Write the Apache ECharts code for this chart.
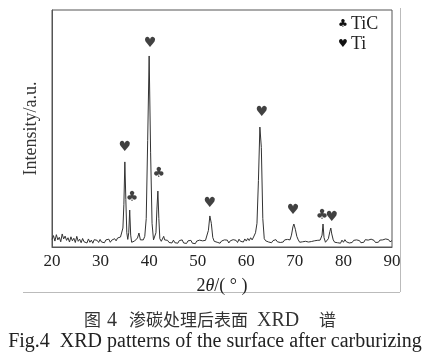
<!DOCTYPE html>
<html><head><meta charset="utf-8">
<script src="https://cdn.jsdelivr.net/npm/echarts@6/dist/echarts.min.js"></script>
<style>html,body{margin:0;padding:0;background:#fff}#c{width:430px;height:359px}</style>
</head><body><div id="c"></div>
<script>
// XRD pattern [2θ (°), intensity (a.u., 0-100)]
const pattern = [
[20.0,3.2],[20.3,4.8],[20.6,2.5],[20.9,5.2],[21.2,3.0],[21.5,4.1],[21.8,2.2],[22.1,5.5],[22.4,3.4],[22.7,4.6],
[23.0,2.8],[23.3,3.9],[23.6,2.1],[23.9,4.3],[24.2,2.6],[24.5,3.7],[24.8,1.9],[25.1,4.5],[25.4,2.4],[25.7,3.3],
[26.0,1.8],[26.3,3.6],[26.6,2.2],[26.9,3.0],[27.2,1.7],[27.5,3.4],[27.8,2.0],[28.1,2.9],[28.4,1.6],[28.7,3.1],
[29.0,2.3],[29.3,2.8],[29.6,1.9],[29.9,3.2],[30.2,2.1],[30.5,2.7],[30.8,1.8],[31.1,3.0],[31.4,2.2],[31.7,3.3],
[32.0,2.0],[32.3,2.9],[32.6,2.4],[32.9,3.5],[33.2,2.6],[33.5,3.8],[33.8,3.0],[34.1,4.2],[34.4,5.0],
[34.6,8],[34.8,18],[35.0,35.9],[35.2,20],[35.4,6],[35.6,3.2],
[35.8,6],[36.0,15.6],[36.2,5],[36.4,2.0],[36.7,1.5],[37.0,2.5],[37.3,2.0],[37.6,3.8],[37.9,5.9],[38.2,3.0],
[38.5,2.2],[38.8,3.0],[39.1,4.5],[39.4,12],[39.7,45],[40.0,80.6],[40.3,40],[40.6,10],[40.9,3.0],[41.2,2.5],
[41.4,6],[41.6,16],[41.8,23.6],[42.0,12],[42.2,3.5],[42.5,2.4],[42.8,3.1],[43.0,4.5],[43.2,3.0],[43.5,2.2],
[43.8,2.8],[44.1,1.9],[44.4,2.6],[44.7,1.7],
[45.0,2.9],[45.3,1.8],[45.6,2.5],[45.9,1.6],[46.2,2.7],[46.5,2.0],[46.8,3.0],[47.1,1.7],[47.4,2.4],[47.7,1.5],
[48.0,2.6],[48.3,1.9],[48.6,2.8],[48.9,1.6],[49.2,2.3],[49.5,1.4],[49.8,2.5],[50.1,1.8],[50.4,2.9],[50.7,2.1],
[51.0,2.6],[51.3,1.9],[51.6,2.8],[51.9,3.0],[52.2,7],[52.5,13.1],[52.8,10],[53.1,4],
[53.4,2.4],[53.7,3.2],[54.0,2.0],[54.3,2.7],[54.6,1.6],[54.9,2.5],[55.2,1.8],[55.5,3.0],[55.8,2.2],[56.1,2.9],
[56.4,1.7],[56.7,2.6],[57.0,2.0],[57.3,3.1],[57.6,2.3],[57.9,2.8],[58.2,1.9],[58.5,3.3],[58.8,2.4],[59.1,3.0],
[59.4,2.1],[59.7,3.4],[60.0,2.5],[60.3,3.6],[60.6,2.7],[60.9,3.9],[61.2,3.0],[61.5,4.2],
[61.9,6],[62.2,10],[62.5,28],[62.8,50.6],[63.1,42],[63.4,12],[63.7,3.5],
[64.0,2.6],[64.3,3.4],[64.6,2.1],[64.9,2.9],[65.2,1.8],[65.5,2.7],[65.8,2.0],[66.1,3.1],[66.4,2.2],[66.7,2.8],
[67.0,1.9],[67.3,2.6],[67.6,2.1],[67.9,3.0],[68.2,2.3],[68.5,3.2],[68.8,2.6],
[69.0,3.0],[69.3,5.0],[69.6,8.5],[69.8,9.7],[70.1,7.5],[70.4,4.5],
[70.7,3.0],[71.0,2.0],[71.3,1.4],[71.6,2.2],[71.9,1.5],[72.2,2.4],[72.5,1.7],[72.8,2.1],[73.1,1.4],[73.4,2.3],
[73.7,1.8],[74.0,2.6],[74.3,1.9],[74.6,2.8],[74.9,2.2],[75.2,2.9],
[75.4,2.5],[75.6,5],[75.8,9.7],[76.0,4],[76.3,2.0],[76.6,2.8],[76.9,3.5],[77.2,6.5],[77.4,8.0],[77.6,5.5],[77.9,3.0],
[78.2,2.0],[78.5,2.7],[78.8,1.8],[79.1,2.5],[79.4,1.6],[79.7,2.9],[80.0,2.0],[80.3,3.1],[80.6,2.2],[80.9,2.6],
[81.2,1.7],[81.5,2.4],[81.8,1.9],[82.1,2.8],[82.4,2.1],[82.7,3.0],[83.0,2.3],[83.3,2.7],[83.6,1.8],[83.9,2.5],
[84.2,2.0],[84.5,3.1],[84.8,2.4],[85.1,2.9],[85.4,2.1],[85.7,3.3],[86.0,2.5],[86.3,2.8],[86.6,1.9],[86.9,2.6],
[87.2,2.0],[87.5,2.9],[87.8,2.2],[88.1,3.0],[88.4,2.3],[88.7,3.4],[89.0,2.6],[89.3,3.1],[89.6,2.2],[90.0,2.7]
];
// phase markers [2θ, label height]
const tiMarks = [[35.0,42.2],[40.2,86.1],[52.5,18.6],[63.2,57.0],[69.6,15.6],[77.6,12.7]];
const ticMarks = [[36.5,21.1],[42.0,31.2],[75.6,13.5]];
const xTicks = [20,30,40,50,60,70,80,90];
const legendItems = [['♣','TiC'],['♥','Ti']];
const captionZh = ['图','4','渗','碳','处','理','后','表','面','XRD','谱'];
const captionEn = 'Fig.4  XRD patterns of the surface after carburizing';

const serif = '"Liberation Serif","Times New Roman",serif';
const chart = echarts.init(document.getElementById('c'), null, {renderer:'canvas'});
const markSeries = (data, ch) => ({
  type:'scatter', data, symbolSize:0, silent:true,
  label:{show:true, position:'inside', formatter:()=>ch, fontSize:14, color:'#111', fontFamily:'DejaVu Sans'}
});
// x positions of caption pieces (layout only)
const zhX = [84,107,129,146,163,180,197,214,231,257,319];
const zhGraphics = captionZh.map((t,i)=>({type:'text', x:zhX[i], y:311,
  style:{text:t, font:(/^[A-Z0-9]+$/.test(t)?'20px '+serif:'17px "Noto Sans CJK SC"'), fill:'#333',
    textVerticalAlign:'top'}}));
chart.setOption({
  animation:false,
  backgroundColor:'#fff',
  grid:{left:52, right:38, top:10, bottom:112, show:true, borderColor:'#555', borderWidth:1},
  xAxis:{type:'value', min:xTicks[0], max:xTicks[xTicks.length-1], interval:10,
    axisLine:{show:true, lineStyle:{color:'#555'}}, axisTick:{show:false}, splitLine:{show:false},
    axisLabel:{fontFamily:serif, fontSize:17, color:'#222', margin:6},
    name:'2{i|θ}/( ° )', nameLocation:'middle', nameGap:30,
    nameTextStyle:{fontFamily:serif, fontSize:18, color:'#222', rich:{i:{fontFamily:serif, fontStyle:'italic', fontSize:18, color:'#222'}}}},
  yAxis:{type:'value', min:0, max:100,
    axisLine:{show:true, lineStyle:{color:'#555'}}, axisTick:{show:false}, axisLabel:{show:false}, splitLine:{show:false},
    name:'Intensity/a.u.', nameLocation:'middle', nameGap:12,
    nameTextStyle:{fontFamily:serif, fontSize:18, color:'#333'}},
  series:[
    {type:'line', data:pattern, showSymbol:false, lineStyle:{color:'#333', width:1}},
    markSeries(tiMarks,'♥'),
    markSeries(ticMarks,'♣')
  ],
  graphic:[
    {type:'line', shape:{x1:23,y1:292.5,x2:400,y2:292.5}, style:{stroke:'#bbb', lineWidth:1}},
    {type:'line', shape:{x1:400.5,y1:8,x2:400.5,y2:292}, style:{stroke:'#bbb', lineWidth:1}},
    ...legendItems.map((it,i)=>({type:'group', left:338, top:15+i*20, children:[
      {type:'text', x:0, y:4, style:{text:it[0], font:'11px "DejaVu Sans"', fill:'#111'}},
      {type:'text', x:13, y:0, style:{text:it[1], font:'18px '+serif, fill:'#222'}}
    ]})),
    ...zhGraphics,
    {type:'text', left:'center', top:332, style:{text:captionEn, font:'20px '+serif, fill:'#222'}}
  ]
});
</script></body></html>
